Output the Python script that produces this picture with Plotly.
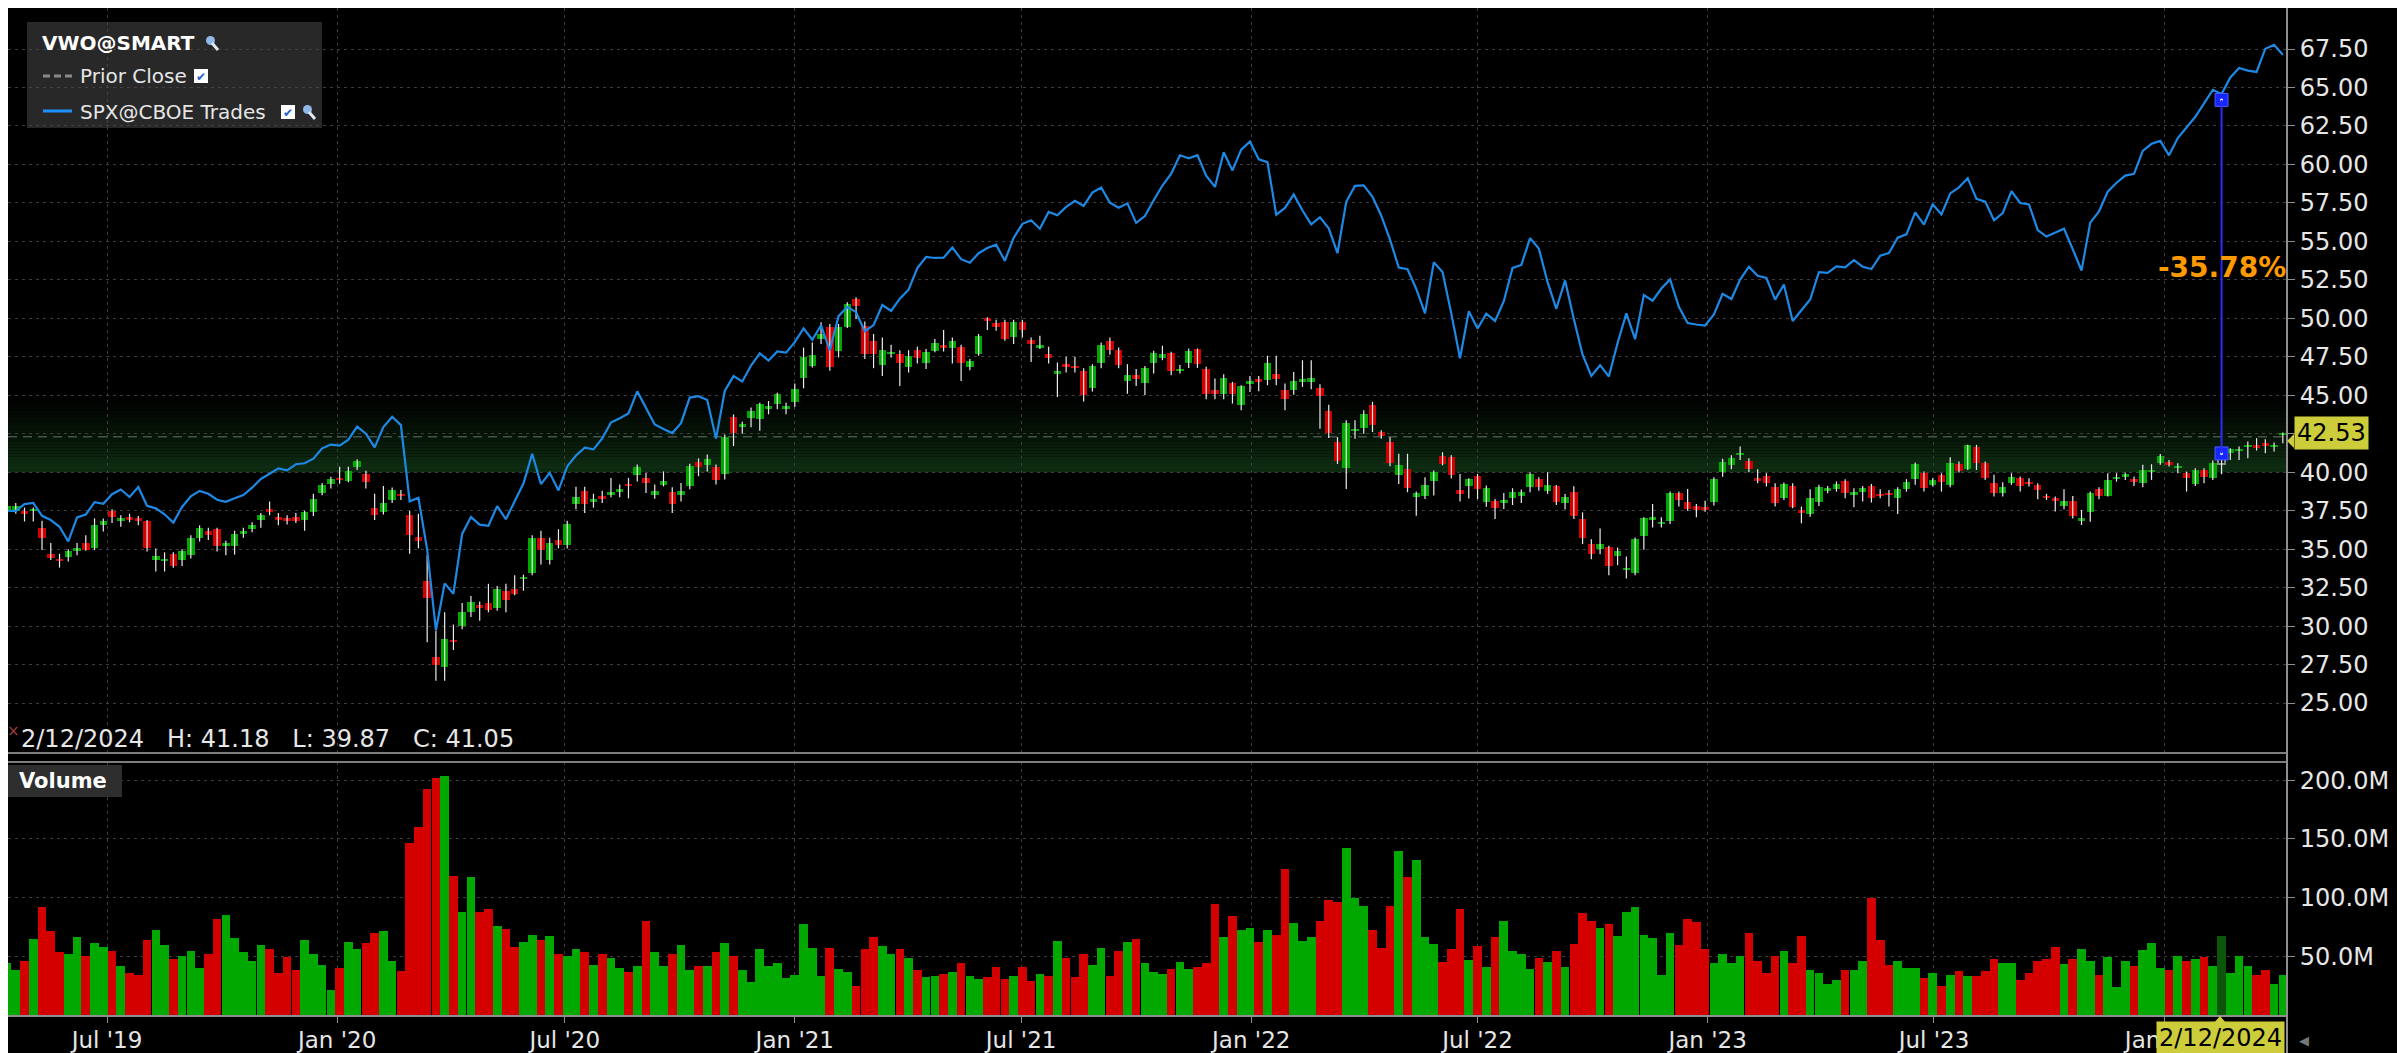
import pandas as pd
import plotly.graph_objects as go

# ---------------- data ----------------
first_week_end = "2019-04-12"   # Friday of the first weekly bar

vwo_open = [
    37.55, 37.5, 37.5, 37.45, 36.4, 34.7, 34.35, 34.5, 34.9, 35.4,
    35.05, 36.6, 37.5, 36.8, 37.1, 37.0, 36.8, 34.3, 34.2, 34.7,
    34.3, 34.6, 35.75, 36.2, 36.3, 35.2, 35.2, 36.0, 36.3, 36.9,
    37.6, 37.1, 37.0, 37.1, 36.9, 37.4, 38.65, 39.25, 39.65, 39.45,
    40.35, 39.9, 37.7, 37.4, 38.2, 38.6, 37.2, 35.8, 32.95, 28.0,
    27.35, 29.1, 30.0, 30.9, 31.35, 31.5, 31.15, 32.3, 32.4, 33.05,
    33.45, 35.7, 34.3, 35.6, 35.3, 37.95, 38.75, 38.07, 38.48, 38.5,
    38.7, 39.26, 39.8, 39.63, 38.5, 39.2, 38.72, 38.5, 39.09, 40.67,
    40.5, 40.33, 39.9, 43.6, 42.93, 43.54, 43.43, 44.09, 44.45, 44.09,
    44.57, 46.15, 46.9, 48.65, 49.46, 47.9, 49.46, 51.26, 49.52, 48.5,
    46.98, 47.67, 47.67, 46.85, 47.93, 47.07, 47.89, 48.28, 48.1, 48.15,
    46.85, 47.67, 50.0, 49.67, 49.78, 48.76, 49.78, 48.61, 48.07, 47.67,
    46.37, 47.02, 46.91, 46.59, 45.46, 47.07, 48.5, 47.96, 45.93, 46.33,
    45.83, 47.07, 47.39, 47.76, 46.57, 47.11, 48.0, 46.74, 45.37, 45.11,
    45.83, 44.39, 45.76, 46.04, 45.98, 46.37, 45.33, 45.33, 45.87, 45.87,
    45.48, 43.98, 41.96, 40.26, 42.65, 42.87, 44.35, 42.61, 41.96, 39.83,
    40.22, 38.37, 38.43, 39.46, 41.05, 41.0, 38.87, 39.13, 39.78, 38.09,
    38.15, 38.0, 38.3, 38.48, 39.02, 39.57, 38.8, 39.09, 38.0, 38.74,
    36.96, 35.33, 35.04, 35.11, 34.57, 33.65, 33.43, 35.83, 36.91, 36.63,
    36.85, 38.65, 38.04, 37.83, 37.72, 38.09, 40.0, 40.48, 41.13, 40.74,
    39.61, 39.78, 39.02, 38.31, 39.11, 37.55, 37.29, 38.09, 38.81, 38.92,
    39.46, 38.52, 38.74, 39.13, 38.59, 38.68, 38.31, 38.9, 39.54, 39.93,
    39.18, 39.83, 39.18, 40.52, 40.2, 41.67, 40.63, 39.28, 38.63, 39.28,
    39.61, 39.39, 39.18, 38.46, 38.35, 37.81, 38.13, 36.85, 37.44, 38.92,
    38.48, 39.54, 39.67, 39.57, 39.28, 40.04, 40.59, 40.69, 40.26, 39.93,
    39.24, 40.15, 39.61, 40.55, 41.24, 41.41, 41.67, 41.78, 41.89, 41.63,
    42.43,
]
vwo_high = [
    37.95, 38.0, 37.7, 37.7, 36.85, 35.4, 34.7, 35.0, 35.4, 35.9,
    37.0, 37.0, 37.6, 37.2, 37.3, 37.15, 36.9, 35.05, 34.8, 34.8,
    35.0, 35.9, 36.55, 36.4, 36.4, 35.55, 36.2, 36.4, 36.75, 37.35,
    38.1, 37.35, 37.2, 37.35, 37.5, 38.6, 39.3, 39.7, 40.35, 40.35,
    40.85, 40.1, 38.6, 39.1, 39.0, 38.85, 37.5, 37.3, 34.6, 29.7,
    30.9, 30.1, 31.5, 31.95, 31.6, 32.75, 32.6, 32.75, 33.3, 33.35,
    35.9, 36.2, 35.75, 36.3, 36.85, 39.05, 39.05, 38.6, 38.8, 39.63,
    39.2, 39.63, 40.5, 39.95, 39.2, 40.05, 39.02, 39.3, 40.55, 40.9,
    41.15, 40.5, 42.45, 43.76, 43.28, 44.2, 44.52, 44.63, 45.17, 44.52,
    45.76, 48.1, 48.43, 49.74, 49.63, 49.63, 51.04, 51.37, 49.8, 48.98,
    48.76, 48.28, 47.93, 47.93, 48.15, 48.0, 48.65, 49.24, 48.76, 48.28,
    47.35, 48.98, 50.07, 49.9, 49.9, 49.9, 49.9, 48.76, 48.87, 48.15,
    47.13, 47.5, 47.5, 46.76, 47.02, 48.43, 48.76, 48.1, 47.02, 46.7,
    46.91, 47.9, 48.22, 47.83, 46.96, 48.04, 48.04, 46.85, 46.09, 46.37,
    45.87, 45.65, 46.26, 46.26, 47.57, 47.57, 45.76, 46.52, 47.28, 47.28,
    45.72, 44.39, 42.28, 43.37, 43.37, 44.02, 44.57, 42.72, 42.28, 41.2,
    41.2, 38.74, 39.67, 40.11, 41.3, 41.1, 39.89, 39.61, 39.89, 39.13,
    38.26, 38.65, 38.96, 38.87, 40.0, 39.67, 40.0, 39.17, 38.59, 39.09,
    37.39, 35.65, 36.35, 35.22, 35.11, 34.52, 35.76, 37.07, 37.93, 37.07,
    38.74, 38.74, 38.91, 37.93, 38.15, 39.67, 40.87, 41.1, 41.67, 40.9,
    40.2, 39.93, 39.28, 39.33, 39.28, 37.77, 38.9, 39.18, 39.1, 39.4,
    39.55, 38.96, 39.1, 39.24, 38.9, 38.85, 39.02, 39.55, 40.63, 40.04,
    39.61, 39.93, 40.98, 40.7, 41.78, 41.78, 40.7, 39.83, 39.35, 39.93,
    39.72, 39.61, 39.28, 38.59, 38.42, 38.9, 38.46, 37.55, 38.74, 39.02,
    39.93, 39.93, 39.98, 39.72, 40.48, 40.52, 41.19, 40.8, 40.59, 40.04,
    40.26, 40.26, 40.76, 41.18, 41.56, 41.67, 42.0, 42.21, 42.15, 41.93,
    42.58,
]
vwo_low = [
    37.3, 37.3, 36.8, 36.8, 34.95, 34.3, 33.8, 34.2, 34.6, 34.9,
    34.95, 36.15, 36.7, 36.45, 36.75, 36.55, 34.85, 33.55, 33.55, 33.8,
    33.9, 34.4, 35.5, 35.6, 34.85, 34.6, 34.65, 35.75, 36.1, 36.4,
    37.2, 36.55, 36.6, 36.7, 36.2, 37.15, 38.5, 38.95, 39.25, 39.35,
    40.15, 38.95, 36.9, 37.25, 38.0, 38.2, 34.7, 35.05, 28.95, 26.45,
    26.45, 28.45, 29.8, 30.6, 30.35, 30.9, 31.0, 30.9, 32.0, 32.3,
    33.3, 34.0, 34.0, 35.05, 35.05, 37.6, 37.35, 37.7, 38.0, 38.37,
    38.37, 38.3, 39.4, 38.65, 38.28, 39.08, 37.35, 38.1, 38.9, 39.74,
    40.05, 39.2, 39.52, 41.7, 42.5, 42.93, 42.7, 43.76, 44.09, 43.76,
    44.24, 45.45, 46.8, 48.33, 46.59, 47.46, 49.37, 49.96, 47.35, 46.76,
    46.26, 47.46, 45.6, 46.48, 47.07, 46.7, 47.8, 47.85, 47.07, 45.93,
    46.63, 47.57, 49.24, 49.2, 48.54, 48.33, 48.76, 47.17, 48.0, 47.07,
    44.89, 46.48, 46.48, 44.59, 45.24, 46.76, 47.63, 46.76, 45.1, 45.6,
    45.02, 46.41, 47.28, 46.3, 46.41, 46.78, 46.78, 44.74, 44.74, 44.74,
    44.46, 44.02, 45.22, 45.26, 45.65, 45.65, 44.02, 45.04, 45.54, 45.39,
    42.83, 42.22, 40.54, 38.91, 42.17, 42.5, 42.61, 42.17, 40.39, 39.24,
    38.7, 37.17, 38.26, 38.48, 40.45, 39.6, 38.09, 38.3, 38.26, 37.76,
    36.96, 37.61, 37.87, 38.0, 38.7, 38.8, 38.59, 37.87, 37.57, 36.96,
    35.33, 34.35, 34.67, 33.3, 33.96, 33.09, 33.3, 34.96, 36.41, 36.41,
    36.63, 37.78, 37.5, 37.07, 37.43, 37.83, 39.7, 40.2, 40.8, 40.0,
    39.28, 39.07, 37.77, 38.2, 37.66, 36.68, 37.1, 37.8, 38.63, 38.74,
    38.31, 37.72, 38.09, 38.03, 38.31, 37.77, 37.29, 38.74, 39.18, 38.74,
    39.07, 38.74, 39.02, 39.98, 40.15, 40.15, 39.5, 38.42, 38.42, 39.18,
    38.74, 39.07, 38.24, 38.2, 37.44, 37.59, 37.0, 36.57, 36.79, 38.24,
    38.42, 39.39, 39.5, 39.11, 39.02, 39.5, 40.48, 40.37, 39.93, 38.74,
    39.11, 39.28, 39.5, 39.87, 40.8, 40.8, 40.91, 41.41, 41.24, 41.35,
    41.89,
]
vwo_close = [
    37.8, 37.8, 37.3, 37.6, 35.75, 34.4, 34.2, 34.9, 35.05, 34.95,
    36.55, 36.8, 37.1, 37.0, 36.9, 36.8, 35.1, 34.55, 34.35, 33.9,
    34.9, 35.75, 36.4, 35.9, 35.2, 35.4, 36.0, 36.2, 36.6, 37.2,
    37.4, 36.9, 36.82, 36.8, 37.4, 38.25, 39.2, 39.55, 39.5, 40.1,
    40.7, 39.35, 37.25, 38.0, 38.85, 38.45, 35.9, 35.55, 31.85, 27.5,
    29.15, 28.95, 30.9, 31.6, 31.2, 31.05, 32.4, 31.7, 32.1, 33.2,
    35.75, 34.95, 35.4, 35.3, 36.65, 38.4, 37.95, 38.26, 38.28, 38.7,
    38.93, 39.09, 40.33, 39.3, 38.8, 39.41, 37.93, 38.8, 40.43, 40.33,
    40.89, 39.52, 42.28, 42.52, 43.15, 43.98, 44.41, 44.28, 45.1, 44.3,
    45.43, 47.5, 47.6, 48.98, 46.85, 49.46, 50.9, 50.83, 47.67, 47.67,
    47.93, 47.83, 47.07, 47.57, 47.41, 47.83, 48.39, 48.1, 48.5, 47.07,
    47.24, 48.87, 49.85, 49.46, 48.65, 49.78, 49.24, 48.33, 48.28, 47.41,
    46.59, 46.85, 46.76, 45.02, 46.91, 48.28, 47.96, 46.98, 46.33, 46.04,
    46.8, 47.72, 47.65, 46.57, 46.74, 47.89, 47.0, 45.11, 45.11, 46.15,
    45.11, 45.59, 45.91, 45.87, 47.07, 46.09, 44.74, 45.91, 46.04, 46.15,
    44.96, 42.57, 40.7, 43.22, 42.83, 43.8, 43.04, 42.35, 40.61, 40.48,
    38.96, 38.65, 39.2, 40.0, 40.55, 39.8, 38.59, 39.57, 38.91, 38.96,
    37.65, 38.22, 38.74, 38.74, 39.89, 39.02, 39.17, 38.09, 38.41, 37.17,
    35.7, 34.67, 35.33, 33.91, 34.85, 33.8, 35.65, 37.02, 37.07, 36.78,
    38.65, 38.22, 37.61, 37.57, 37.57, 39.57, 40.65, 40.95, 41.28, 40.2,
    39.46, 39.28, 38.03, 39.24, 37.72, 37.38, 38.31, 39.02, 38.96, 39.24,
    38.68, 38.74, 39.0, 38.31, 38.46, 38.52, 38.9, 39.39, 40.52, 38.96,
    39.5, 39.39, 40.63, 40.11, 41.78, 40.63, 39.61, 38.63, 39.02, 39.72,
    39.11, 39.24, 38.85, 38.31, 38.16, 38.13, 37.16, 37.0, 38.68, 38.48,
    39.5, 39.72, 39.89, 39.39, 40.15, 40.15, 41.06, 40.48, 40.41, 39.65,
    40.15, 39.72, 40.63, 41.05, 41.5, 41.5, 41.78, 41.56, 41.71, 41.78,
    42.53,
]
# SPX weekly closes (index points); the chart overlays them rebased to VWO's scale
spx_close = [
    2907, 2905, 2940, 2946, 2881, 2860, 2826, 2752, 2873, 2887, 2950, 2942, 2990,
    3014, 2976, 3026, 2932, 2919, 2889, 2847, 2926, 2979, 3007, 2992, 2962, 2952,
    2970, 2986, 3023, 3067, 3093, 3120, 3110, 3141, 3146, 3169, 3221, 3240, 3235,
    3265, 3330, 3295, 3226, 3328, 3380, 3338, 2954, 2972, 2711, 2305, 2541, 2489,
    2790, 2875, 2837, 2831, 2930, 2864, 2955, 3044, 3194, 3041, 3098, 3009, 3130,
    3185, 3224, 3216, 3271, 3351, 3373, 3397, 3508, 3427, 3341, 3319, 3298, 3348,
    3477, 3484, 3465, 3270, 3510, 3585, 3558, 3638, 3699, 3663, 3709, 3703, 3756,
    3825, 3768, 3841, 3714, 3887, 3934, 3907, 3811, 3842, 3943, 3913, 3975, 4020,
    4129, 4185, 4180, 4181, 4233, 4174, 4156, 4204, 4230, 4247, 4166, 4281, 4352,
    4370, 4327, 4412, 4395, 4437, 4468, 4442, 4509, 4535, 4459, 4433, 4455, 4357,
    4391, 4471, 4545, 4605, 4697, 4682, 4698, 4595, 4538, 4712, 4621, 4726, 4766,
    4677, 4663, 4398, 4432, 4500, 4419, 4349, 4385, 4329, 4204, 4463, 4543, 4546,
    4488, 4393, 4272, 4132, 4123, 4024, 3901, 4158, 4109, 3901, 3675, 3912, 3825,
    3899, 3863, 3962, 4130, 4145, 4280, 4228, 4058, 3924, 4067, 3873, 3693, 3586,
    3640, 3583, 3752, 3901, 3771, 3993, 3965, 4026, 4072, 3934, 3852, 3845, 3840,
    3895, 3999, 3973, 4071, 4136, 4090, 4079, 3970, 4046, 3862, 3917, 3971, 4109,
    4105, 4138, 4133, 4169, 4136, 4124, 4192, 4205, 4282, 4299, 4410, 4348, 4450,
    4399, 4505, 4536, 4582, 4478, 4464, 4370, 4406, 4516, 4457, 4450, 4320, 4288,
    4308, 4327, 4224, 4117, 4358, 4415, 4514, 4559, 4595, 4604, 4719, 4755, 4770,
    4697, 4784, 4840, 4891, 4959, 5027, 5006, 5089, 5137, 5124, 5117, 5234, 5254,
    5204,
]
spx_start_on_chart = 37.5   # level where the comparison line starts on the VWO scale

volume_m = [
    44.4, 38.7, 45.8, 65.0, 91.8, 71.2, 53.4, 52.0, 66.7, 50.3,
    61.0, 57.6, 54.8, 41.5, 35.6, 33.9, 63.6, 72.6, 59.3, 47.5,
    50.3, 54.8, 39.8, 52.0, 81.6, 84.8, 65.3, 53.4, 46.0, 59.3,
    56.5, 35.6, 49.2, 38.4, 63.6, 52.0, 42.9, 20.9, 39.8, 62.4,
    56.5, 61.0, 69.8, 71.2, 46.0, 37.3, 146.9, 160.2, 192.7, 202.0,
    203.4, 118.7, 87.6, 117.2, 87.6, 90.4, 75.7, 72.9, 57.9, 62.4,
    68.4, 63.6, 67.0, 52.0, 50.3, 56.5, 53.4, 42.9, 52.0, 48.9,
    39.8, 37.0, 41.5, 80.2, 53.4, 41.5, 52.0, 59.3, 38.4, 41.5,
    41.5, 53.4, 61.0, 50.3, 38.4, 28.2, 56.5, 41.5, 44.6, 31.1,
    33.9, 77.4, 57.4, 33.5, 57.4, 39.5, 36.6, 24.7, 56.0, 66.5,
    59.1, 51.7, 56.0, 48.6, 38.1, 32.1, 33.5, 34.9, 36.6, 44.0,
    33.5, 30.7, 32.1, 41.2, 30.7, 33.5, 41.2, 29.0, 34.9, 33.5,
    63.3, 48.6, 32.1, 51.7, 42.6, 57.4, 33.5, 54.5, 61.9, 64.8,
    44.0, 36.6, 34.9, 39.5, 45.4, 39.5, 41.2, 44.0, 94.6, 66.5,
    84.3, 72.4, 73.8, 61.9, 72.4, 67.9, 124.7, 78.4, 63.3, 66.5,
    79.8, 97.7, 96.3, 142.6, 99.4, 93.2, 72.4, 57.4, 93.2, 139.7,
    117.3, 132.0, 66.5, 60.5, 45.4, 56.0, 90.3, 46.9, 59.1, 41.2,
    66.5, 79.8, 54.5, 51.7, 39.5, 48.6, 45.4, 54.5, 41.2, 60.5,
    87.2, 79.8, 74.0, 77.1, 67.0, 87.6, 92.1, 68.4, 65.3, 34.2,
    69.8, 59.6, 81.6, 78.8, 56.5, 44.6, 52.0, 44.6, 50.6, 69.8,
    46.0, 35.6, 50.6, 54.8, 44.6, 67.0, 38.4, 35.6, 26.8, 29.7,
    38.7, 38.7, 46.0, 99.4, 63.6, 42.9, 46.0, 40.1, 40.1, 31.4,
    35.6, 25.1, 34.2, 37.3, 32.8, 32.8, 37.3, 47.5, 44.6, 44.6,
    29.7, 35.6, 46.0, 47.5, 57.9, 43.2, 47.5, 56.5, 46.0, 34.2,
    49.2, 23.7, 46.0, 41.5, 55.1, 61.0, 40.1, 38.7, 50.6, 46.0,
    47.5, 49.2, 41.5, 67.0, 35.6, 50.6, 41.5, 34.2, 38.7, 26.8,
    34.2,
]

x_tick_dates = ["2019-07-01", "2020-01-01", "2020-07-01", "2021-01-01", "2021-07-01",
                "2022-01-01", "2022-07-01", "2023-01-01", "2023-07-01", "2024-01-01"]
x_tick_labels = ["Jul '19", "Jan '20", "Jul '20", "Jan '21", "Jul '21",
                 "Jan '22", "Jul '22", "Jan '23", "Jul '23", "Jan '24"]
price_ticks = [25.0, 27.5, 30.0, 32.5, 35.0, 37.5, 40.0, 42.5, 45.0, 47.5,
               50.0, 52.5, 55.0, 57.5, 60.0, 62.5, 65.0, 67.5]
volume_ticks = [50, 100, 150, 200]
volume_tick_labels = ["50.0M", "100.0M", "150.0M", "200.0M"]

prior_close = 42.3
last_price = 42.53
band_low, band_high = 40.0, 45.2
selected_index = 253
selected_label = "2/12/2024"
sel_high, sel_low, sel_close = 41.18, 39.87, 41.05
measure_spx = 64.19
measure_vwo = 41.22
measure_label = "-35.78%"

n = len(vwo_close)
for name, arr in [("open", vwo_open), ("high", vwo_high), ("low", vwo_low),
                  ("spx", spx_close), ("volume", volume_m)]:
    if len(arr) != n:
        raise ValueError(f"{name} has {len(arr)} values, expected {n}")

# ---------------- geometry / style ----------------
# The page body keeps its default 8px margin, so the figure sits at (8, 8) on screen.
BODY = 8
W, H = 2405 - BODY, 1053 - BODY
SX0, SX1 = 8, 2287        # plot area left/right on screen
SY0, SY1 = 8, 1015        # plot area top/bottom on screen
FONT = "DejaVu Sans"
GREEN, RED = "#00a800", "#d40000"
GRID = "#3d3d3d"
AXIS = "#8f8f8f"
TXT = "#e6e6e6"
DAY_MS = 86400000


def pxx(sx):
    return (sx - SX0) / (SX1 - SX0)


def pxy(sy):
    return (SY1 - sy) / (SY1 - SY0)


def price_at(sy):
    return 67.5 - (sy - 49) / 15.39


dates = pd.date_range(first_week_end, periods=n, freq="7D")
sel_date = dates[selected_index]
x_range = ["2019-04-12 19:00", "2024-04-08 08:00"]

up = [c >= o for o, c in zip(vwo_open, vwo_close)]
body_colors = [GREEN if u else RED for u in up]
body_base = [min(o, c) for o, c in zip(vwo_open, vwo_close)]
body_h = [max(abs(c - o), 0.12) for o, c in zip(vwo_open, vwo_close)]
line_colors = list(body_colors)
line_widths = [0] * n
body_colors[selected_index] = "rgba(0,0,0,0.6)"
line_colors[selected_index] = "#8a8a8a"
line_widths[selected_index] = 2

vol_colors = [GREEN if u else RED for u in up]
vol_colors[selected_index] = "#0b560b"

wick_x, wick_y = [], []
for d, lo, hi in zip(dates, vwo_low, vwo_high):
    wick_x += [d, d, None]
    wick_y += [lo, hi, None]

spx_scale = spx_start_on_chart / spx_close[0]
spx_on_chart = [v * spx_scale for v in spx_close]

fig = go.Figure()
fig.add_trace(go.Scatter(x=wick_x, y=wick_y, mode="lines",
                         line=dict(color="#ececec", width=1.2),
                         hoverinfo="skip", showlegend=False, xaxis="x", yaxis="y"))
fig.add_trace(go.Bar(x=dates, y=body_h, base=body_base, width=6 * DAY_MS,
                     marker=dict(color=body_colors,
                                 line=dict(color=line_colors, width=line_widths)),
                     showlegend=False, xaxis="x", yaxis="y"))
fig.add_trace(go.Scatter(x=dates, y=spx_on_chart, mode="lines",
                         line=dict(color="#1e88e5", width=2.2),
                         showlegend=False, xaxis="x", yaxis="y"))
fig.add_trace(go.Bar(x=dates, y=volume_m, width=6.9 * DAY_MS,
                     marker=dict(color=vol_colors, line=dict(width=0)),
                     showlegend=False, xaxis="x2", yaxis="y2"))
fig.add_trace(go.Scatter(x=[sel_date, sel_date], y=[measure_spx, measure_vwo],
                         mode="markers",
                         marker=dict(symbol="square", size=13, color="#1626ff",
                                     line=dict(color="#4a5cff", width=1)),
                         showlegend=False, xaxis="x", yaxis="y"))
fig.add_trace(go.Scatter(x=[sel_date, sel_date], y=[measure_spx, measure_vwo],
                         mode="markers", marker=dict(symbol="circle", size=3, color="white"),
                         showlegend=False, xaxis="x", yaxis="y"))

shapes = []
# gradient band (stack of thin strips)
strips = 26
for k in range(strips):
    f = k / strips
    r, g, b = [int(round(v * (1 - f) ** 1.3)) for v in (14, 46, 18)]
    y0 = band_low + (band_high - band_low) * k / strips
    y1 = band_low + (band_high - band_low) * (k + 1) / strips
    shapes.append(dict(type="rect", xref="paper", yref="y", x0=0, x1=1, y0=y0, y1=y1,
                       fillcolor=f"rgb({r},{g},{b})", line=dict(width=0), layer="below"))
shapes.append(dict(type="line", xref="paper", yref="y", x0=0, x1=1,
                   y0=prior_close, y1=prior_close,
                   line=dict(color="rgba(120,135,120,0.55)", width=1.5, dash="9px,6px"),
                   layer="below"))
# panel separators, right axis line
for yy in (753, 762):
    shapes.append(dict(type="line", xref="paper", yref="paper", x0=0, x1=1,
                       y0=pxy(yy), y1=pxy(yy), line=dict(color="#7d7d7d", width=2)))
shapes.append(dict(type="line", xref="paper", yref="paper", x0=1, x1=1,
                   y0=pxy(8), y1=pxy(1053), line=dict(color=AXIS, width=2)))
# legend box
shapes.append(dict(type="rect", xref="paper", yref="paper", x0=pxx(27), x1=pxx(322),
                   y0=pxy(128), y1=pxy(22), fillcolor="rgba(72,72,72,0.55)",
                   line=dict(width=0)))
shapes.append(dict(type="line", xref="paper", yref="paper", x0=pxx(43), x1=pxx(72),
                   y0=pxy(76), y1=pxy(76), line=dict(color="#8a8a8a", width=3, dash="7px,4px")))
shapes.append(dict(type="line", xref="paper", yref="paper", x0=pxx(43), x1=pxx(72),
                   y0=pxy(111), y1=pxy(111), line=dict(color="#1e90ff", width=3)))
for cx, cy in ((201, 76), (288, 112)):
    shapes.append(dict(type="rect", xref="paper", yref="paper", x0=pxx(cx - 7), x1=pxx(cx + 7),
                       y0=pxy(cy + 7), y1=pxy(cy - 7), fillcolor="white", line=dict(width=0)))
for wx, wy in ((212, 42), (309, 111)):
    shapes.append(dict(type="circle", xref="paper", yref="paper", x0=pxx(wx - 6), x1=pxx(wx + 3),
                       y0=pxy(wy + 3), y1=pxy(wy - 6), fillcolor="#8fb8e8", line=dict(width=0)))
    shapes.append(dict(type="line", xref="paper", yref="paper", x0=pxx(wx), x1=pxx(wx + 6),
                       y0=pxy(wy + 1), y1=pxy(wy + 8), line=dict(color="#dfe8f5", width=3)))
# volume label box
shapes.append(dict(type="rect", xref="paper", yref="paper", x0=pxx(8), x1=pxx(122),
                   y0=pxy(797), y1=pxy(765), fillcolor="#2e2e2e", line=dict(width=0)))
# measurement line
shapes.append(dict(type="line", xref="x", yref="y", x0=sel_date, x1=sel_date,
                   y0=measure_vwo, y1=measure_spx, line=dict(color="#2a2aff", width=2)))
# pointers of the yellow labels
ly = 441
shapes.append(dict(type="path", xref="paper", yref="paper",
                   path=f"M {pxx(2287)},{pxy(ly)} L {pxx(2294)},{pxy(ly - 7)} L {pxx(2294)},{pxy(ly + 7)} Z",
                   fillcolor="#cdcd3c", line=dict(width=0)))
shapes.append(dict(type="path", xref="paper", yref="paper",
                   path=f"M {pxx(2213)},{pxy(1024)} L {pxx(2220)},{pxy(1016)} L {pxx(2227)},{pxy(1024)} Z",
                   fillcolor="#cdcd3c", line=dict(width=0)))

ann = []


def text(x, y, s, size=20, color=TXT, xanchor="left", **kw):
    ann.append(dict(xref="paper", yref="paper", x=pxx(x), y=pxy(y), text=s, showarrow=False,
                    xanchor=xanchor, yanchor="middle",
                    font=dict(family=FONT, size=size, color=color), **kw))


text(40, 43, "<b>VWO@SMART</b>", 20, "#ffffff")
text(78, 76, "Prior Close", 20)
text(78, 112, "SPX@CBOE Trades", 20)
text(201, 77, "✔", 12, "#1f5fd6", xanchor="center")
text(288, 113, "✔", 12, "#1f5fd6", xanchor="center")
text(13, 731, "×", 15, "#9b3b3b", xanchor="center")
text(19, 739, f"{selected_label}   H: {sel_high:.2f}   L: {sel_low:.2f}   C: {sel_close:.2f}", 24)
text(17, 781, "<b>Volume</b>", 21, "#ffffff")
text(2220, 1038, selected_label, 24, "#000000", xanchor="center",
     bgcolor="#cdcd3c", borderpad=2)
text(2297, 1040, "◀", 13, "#777777")
ann.append(dict(xref="paper", yref="y", x=pxx(2294), y=last_price, text=f"{last_price:.2f}",
                showarrow=False, xanchor="left", yanchor="middle", bgcolor="#cdcd3c", borderpad=2,
                font=dict(family=FONT, size=24, color="#000000")))
ann.append(dict(xref="x", yref="y", x=sel_date, y=53.3, text=f"<b>{measure_label}</b>",
                showarrow=False, xanchor="center", yanchor="middle",
                font=dict(family=FONT, size=28, color="#ff9900")))

fig.update_layout(
    width=W, height=H,
    margin=dict(l=SX0 - BODY, r=W - (SX1 - BODY), t=SY0 - BODY, b=H - (SY1 - BODY), pad=0),
    paper_bgcolor="#000000", plot_bgcolor="#000000",
    barmode="overlay", bargap=0, showlegend=False,
    font=dict(family=FONT, size=24, color=TXT),
    shapes=shapes, annotations=ann,
    xaxis=dict(domain=[0, 1], anchor="y", type="date", range=x_range,
               tickvals=x_tick_dates, showticklabels=False, ticks="",
               showgrid=True, gridcolor=GRID, griddash="3px,4px", gridwidth=1,
               zeroline=False, showline=False),
    yaxis=dict(domain=[pxy(753), 1], anchor="x", side="right",
               range=[price_at(753), price_at(SY0)],
               tickvals=price_ticks, ticktext=[f"{v:.2f}" for v in price_ticks],
               ticks="outside", ticklen=7, tickcolor=AXIS, tickwidth=1,
               tickfont=dict(family=FONT, size=24, color=TXT),
               showgrid=True, gridcolor=GRID, griddash="3px,4px", gridwidth=1,
               zeroline=False, showline=False),
    xaxis2=dict(domain=[0, 1], anchor="y2", type="date", range=x_range,
                tickvals=x_tick_dates, ticktext=x_tick_labels,
                ticks="outside", ticklen=6, tickcolor=AXIS, ticklabelstandoff=-3,
                tickfont=dict(family=FONT, size=23, color=TXT),
                showgrid=True, gridcolor=GRID, griddash="3px,4px", gridwidth=1,
                zeroline=False, showline=True, linecolor=AXIS, linewidth=2),
    yaxis2=dict(domain=[0, pxy(762)], anchor="x2", side="right",
                range=[0, (1015 - 762) / 58.7 * 50],
                tickvals=volume_ticks, ticktext=volume_tick_labels,
                ticks="outside", ticklen=7, tickcolor=AXIS,
                tickfont=dict(family=FONT, size=24, color=TXT),
                showgrid=True, gridcolor=GRID, griddash="3px,4px", gridwidth=1,
                zeroline=False, showline=False),
)

fig.write_html("out.html")
